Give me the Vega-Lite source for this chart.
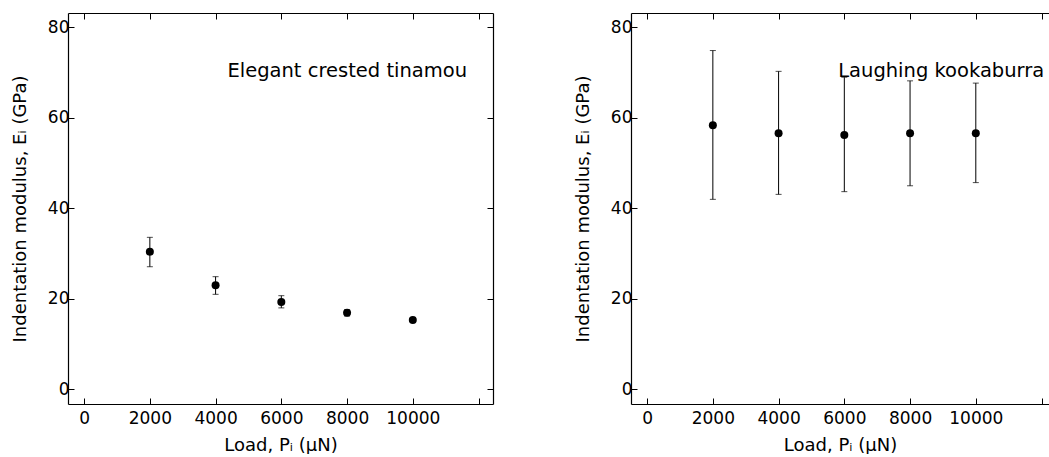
{
  "$schema": "https://vega.github.io/schema/vega-lite/v6.json",
  "padding": {"left": 11, "top": 12, "right": 0, "bottom": 0},
  "background": "white",
  "spacing": 138,
  "bounds": "flush",
  "config": {
    "view": {"stroke": null},
    "font": "DejaVu Sans",
    "axis": {
      "grid": false,
      "domainColor": "black",
      "domainWidth": 1.2,
      "tickColor": "black",
      "tickWidth": 1,
      "tickSize": -6,
      "labelColor": "black",
      "titleColor": "black",
      "labelFont": "DejaVu Sans",
      "titleFont": "DejaVu Sans",
      "labelFontSize": 17,
      "titleFontSize": 18,
      "titleFontWeight": "normal"
    },
    "axisX": {"labelPadding": 12, "titlePadding": 10},
    "axisY": {"labelPadding": 5, "titlePadding": 18}
  },
  "datasets": {
    "tinamou": [
      {"load": 2000, "modulus": 30.4, "lo": 27.1, "hi": 33.6},
      {"load": 4000, "modulus": 23.0, "lo": 21.0, "hi": 24.9},
      {"load": 6000, "modulus": 19.3, "lo": 18.0, "hi": 20.7},
      {"load": 8000, "modulus": 16.9, "lo": 16.2, "hi": 17.6},
      {"load": 10000, "modulus": 15.3, "lo": 15.0, "hi": 15.6}
    ],
    "kookaburra": [
      {"load": 2000, "modulus": 58.4, "lo": 42.0, "hi": 74.9},
      {"load": 4000, "modulus": 56.6, "lo": 43.1, "hi": 70.3},
      {"load": 6000, "modulus": 56.2, "lo": 43.7, "hi": 69.0},
      {"load": 8000, "modulus": 56.6, "lo": 45.0, "hi": 68.2},
      {"load": 10000, "modulus": 56.6, "lo": 45.7, "hi": 67.7}
    ]
  },
  "hconcat": [
    {
      "width": 425,
      "height": 391,
      "data": {"name": "tinamou"},
      "resolve": {"axis": {"x": "independent", "y": "independent"}},
      "layer": [
        {
          "mark": {"type": "rule", "color": "black", "strokeWidth": 1},
          "encoding": {
            "x": {"field": "load", "type": "quantitative", "scale": {"domain": [-490, 12440], "nice": false, "zero": false},
              "axis": {"orient": "bottom", "values": [0, 2000, 4000, 6000, 8000, 10000, 12000], "labelExpr": "datum.value == 12000 ? '' : datum.label", "format": "d", "title": "Load, Pᵢ (μN)"}},
            "y": {"field": "lo", "type": "quantitative", "scale": {"domain": [-3.25, 83.2], "nice": false, "zero": false},
              "axis": {"orient": "left", "values": [0, 20, 40, 60, 80], "title": "Indentation modulus, Eᵢ (GPa)"}},
            "y2": {"field": "hi"}
          }
        },
        {
          "mark": {"type": "tick", "orient": "horizontal", "size": 6, "thickness": 1, "color": "black"},
          "encoding": {
            "x": {"field": "load", "type": "quantitative", "axis": null},
            "y": {"field": "lo", "type": "quantitative", "axis": null}
          }
        },
        {
          "mark": {"type": "tick", "orient": "horizontal", "size": 6, "thickness": 1, "color": "black"},
          "encoding": {
            "x": {"field": "load", "type": "quantitative", "axis": null},
            "y": {"field": "hi", "type": "quantitative", "axis": null}
          }
        },
        {
          "mark": {"type": "circle", "size": 64, "color": "black", "opacity": 1},
          "encoding": {
            "x": {"field": "load", "type": "quantitative",
              "axis": {"orient": "top", "values": [0, 2000, 4000, 6000, 8000, 10000, 12000], "labels": false, "title": null}},
            "y": {"field": "modulus", "type": "quantitative",
              "axis": {"orient": "right", "values": [0, 20, 40, 60, 80], "labels": false, "title": null}}
          }
        },
        {
          "data": {"values": [{"label": "Elegant crested tinamou", "px": 11650, "py": 70.3}]},
          "mark": {"type": "text", "align": "right", "baseline": "middle", "fontSize": 19.5, "font": "DejaVu Sans", "color": "black"},
          "encoding": {
            "x": {"field": "px", "type": "quantitative", "axis": null},
            "y": {"field": "py", "type": "quantitative", "axis": null},
            "text": {"field": "label"}
          }
        }
      ]
    },
    {
      "width": 418,
      "height": 391,
      "data": {"name": "kookaburra"},
      "resolve": {"axis": {"x": "independent", "y": "independent"}},
      "layer": [
        {
          "mark": {"type": "rule", "color": "black", "strokeWidth": 1},
          "encoding": {
            "x": {"field": "load", "type": "quantitative", "scale": {"domain": [-490, 12227], "nice": false, "zero": false},
              "axis": {"orient": "bottom", "values": [0, 2000, 4000, 6000, 8000, 10000, 12000], "labelExpr": "datum.value == 12000 ? '' : datum.label", "format": "d", "title": "Load, Pᵢ (μN)"}},
            "y": {"field": "lo", "type": "quantitative", "scale": {"domain": [-3.25, 83.2], "nice": false, "zero": false},
              "axis": {"orient": "left", "values": [0, 20, 40, 60, 80], "title": "Indentation modulus, Eᵢ (GPa)"}},
            "y2": {"field": "hi"}
          }
        },
        {
          "mark": {"type": "tick", "orient": "horizontal", "size": 6, "thickness": 1, "color": "black"},
          "encoding": {
            "x": {"field": "load", "type": "quantitative", "axis": null},
            "y": {"field": "lo", "type": "quantitative", "axis": null}
          }
        },
        {
          "mark": {"type": "tick", "orient": "horizontal", "size": 6, "thickness": 1, "color": "black"},
          "encoding": {
            "x": {"field": "load", "type": "quantitative", "axis": null},
            "y": {"field": "hi", "type": "quantitative", "axis": null}
          }
        },
        {
          "mark": {"type": "circle", "size": 64, "color": "black", "opacity": 1},
          "encoding": {
            "x": {"field": "load", "type": "quantitative",
              "axis": {"orient": "top", "values": [0, 2000, 4000, 6000, 8000, 10000, 12000], "labels": false, "title": null}},
            "y": {"field": "modulus", "type": "quantitative", "axis": null}
          }
        },
        {
          "data": {"values": [{"label": "Laughing kookaburra", "px": 5814, "py": 70.3}]},
          "mark": {"type": "text", "align": "left", "baseline": "middle", "fontSize": 19.5, "font": "DejaVu Sans", "color": "black"},
          "encoding": {
            "x": {"field": "px", "type": "quantitative", "axis": null},
            "y": {"field": "py", "type": "quantitative", "axis": null},
            "text": {"field": "label"}
          }
        }
      ]
    }
  ]
}
